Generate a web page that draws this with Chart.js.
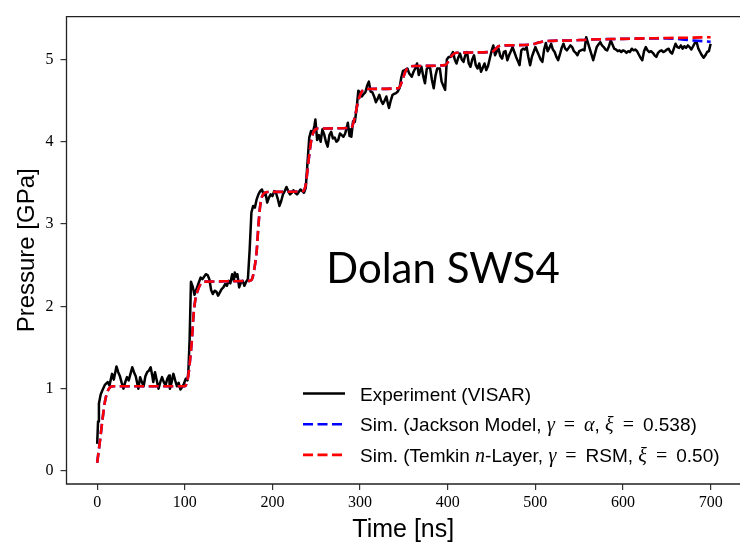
<!DOCTYPE html>
<html>
<head>
<meta charset="utf-8">
<script src="https://cdn.jsdelivr.net/npm/chart.js@4.4.0/dist/chart.umd.min.js"></script>
<style>
  body { margin: 0; background: #fff; }
</style>
</head>
<body>
<canvas id="myChart" width="740" height="549"></canvas>
<script>
// VISAR record (time in ns, pressure in GPa)
const expTime = [
  0, 1, 2, 4, 6, 9, 12, 14, 17, 19,
  22, 24, 26, 28, 30, 32, 34, 36, 38, 40,
  42, 44, 46, 47, 49, 51, 53, 55, 57, 59,
  61, 63, 64, 66, 68, 70, 72, 74, 76, 78,
  80, 82, 83, 85, 87, 89, 91, 93, 95, 97,
  99, 101, 103, 104, 105.5, 107, 109, 111, 113, 116,
  118, 120, 122, 124, 126, 128, 130, 132, 134, 136,
  138, 140, 142, 144, 146, 148, 150, 152, 154, 156,
  157, 159, 160, 162, 164, 166, 168, 170, 172, 174,
  176, 178, 180, 182, 184, 186, 188, 190, 192, 194,
  196, 198, 200, 202, 204, 206, 208, 210, 212, 214,
  216, 218, 220, 222, 224, 226, 228, 230, 232, 234,
  236, 238, 240, 242, 244, 246, 248, 249, 251, 253,
  255, 257, 259, 261, 263, 265, 267, 269, 271, 273,
  275, 277, 279, 281, 283, 285, 286, 288, 289, 290,
  292, 294, 296, 298, 300, 302, 304, 306, 308, 310,
  312, 314, 316, 318, 320, 322, 324, 326, 328, 330,
  332, 333, 335, 337, 339, 341, 343, 345, 347, 349,
  351, 354, 356, 359, 361, 363, 365, 367, 370, 372,
  374, 376, 378, 380, 382, 384, 386, 388, 391, 393,
  395, 397, 399, 401, 403, 406, 408, 410, 412, 414,
  416, 418, 420, 422, 424, 426, 428, 430, 432, 434,
  436, 438, 440, 442, 444, 446, 448, 450, 452, 454,
  456, 458, 460, 462, 464, 466, 468, 470, 472, 474,
  476, 478, 480, 482, 484, 486, 488, 490, 492, 494,
  496, 498, 500, 502, 504, 506, 508, 510, 512, 514,
  516, 518, 520, 522, 524, 526, 528, 530, 532, 534,
  536, 538, 540, 542, 544, 546, 548, 550, 552, 554,
  556, 558, 560, 562, 564, 566, 568, 570, 572, 574,
  576, 578, 580, 582, 584, 586, 588, 590, 592, 594,
  596, 598, 600, 602, 604, 606, 608, 610, 612, 614,
  616, 618, 620, 622, 624, 626, 628, 630, 632, 634,
  636, 638, 640, 642, 644, 646, 648, 650, 652, 654,
  656, 658, 660, 662, 664, 666, 668, 670, 672, 674,
  676, 678, 680, 682, 684, 686, 688, 690, 692, 694,
  696, 698, 700
];
const expPressure = [
  0.33, 0.60, 0.82, 0.93, 0.98, 1.05, 1.08, 1.04, 1.18, 1.11,
  1.27, 1.20, 1.15, 1.07, 1.00, 1.08, 1.14, 1.10, 1.18, 1.26,
  1.20, 1.15, 1.05, 1.00, 1.14, 1.08, 1.03, 1.15, 1.20, 1.22,
  1.26, 1.15, 1.08, 1.20, 1.10, 1.00, 1.08, 1.14, 1.08, 1.04,
  1.12, 1.16, 1.00, 1.08, 1.18, 1.10, 1.03, 1.07, 0.99, 1.02,
  1.06, 1.12, 1.10, 1.20, 1.60, 2.30, 2.24, 2.14, 2.20, 2.29,
  2.35, 2.33, 2.36, 2.39, 2.38, 2.33, 2.20, 2.15, 2.19, 2.18,
  2.13, 2.17, 2.21, 2.23, 2.27, 2.25, 2.31, 2.28, 2.39, 2.31,
  2.41, 2.36, 2.39, 2.23, 2.29, 2.31, 2.25, 2.30, 2.33, 2.69,
  3.14, 3.22, 3.20, 3.30, 3.36, 3.40, 3.42, 3.35, 3.38, 3.26,
  3.32, 3.36, 3.34, 3.40, 3.38, 3.31, 3.22, 3.28, 3.36, 3.40,
  3.45, 3.40, 3.36, 3.38, 3.41, 3.38, 3.36, 3.39, 3.42, 3.40,
  3.38, 3.44, 3.75, 4.05, 4.13, 4.10, 4.20, 4.27, 4.02, 4.08,
  4.00, 4.15, 4.09, 4.00, 3.94, 4.08, 4.12, 4.04, 4.05, 4.00,
  4.02, 4.10, 4.08, 4.06, 4.10, 4.18, 4.23, 4.07, 4.15, 4.06,
  4.25, 4.24, 4.40, 4.62, 4.60, 4.55, 4.58, 4.60, 4.68, 4.73,
  4.61, 4.60, 4.55, 4.48, 4.52, 4.57, 4.50, 4.46, 4.50, 4.55,
  4.45, 4.41, 4.50, 4.57, 4.58, 4.59, 4.61, 4.65, 4.78, 4.86,
  4.87, 4.89, 4.83, 4.79, 4.85, 4.89, 4.95, 4.81, 4.91, 4.80,
  4.71, 4.88, 4.91, 4.89, 4.75, 4.65, 4.80, 4.89, 4.89, 4.73,
  4.68, 4.63, 5.00, 5.03, 5.03, 5.09, 5.00, 4.95, 5.02, 5.07,
  5.00, 4.97, 5.05, 5.09, 4.95, 4.91, 5.00, 5.05, 4.93, 4.89,
  4.95, 4.85, 4.90, 4.95, 4.87, 4.92, 5.01, 5.10, 5.17, 5.05,
  5.10, 5.13, 5.04, 5.01, 5.09, 5.10, 4.99, 5.05, 5.10, 5.15,
  5.09, 5.03, 4.98, 4.93, 5.11, 5.13, 5.12, 5.15, 5.03, 4.93,
  5.03, 5.09, 5.15, 5.10, 5.05, 5.00, 4.97, 5.12, 5.20, 5.10,
  5.14, 5.19, 5.12, 5.09, 5.03, 4.99, 5.06, 5.14, 5.19, 5.13,
  5.11, 5.14, 5.17, 5.15, 5.10, 5.08, 5.05, 5.10, 5.11, 5.12,
  5.11, 5.27, 5.20, 5.13, 5.06, 4.99, 5.07, 5.15, 5.18, 5.21,
  5.17, 5.15, 5.12, 5.11, 5.16, 5.23, 5.18, 5.13, 5.12, 5.10,
  5.11, 5.09, 5.11, 5.10, 5.08, 5.10, 5.09, 5.13, 5.11, 5.12,
  5.10, 5.06, 5.02, 4.99, 5.10, 5.15, 5.11, 5.09, 5.10, 5.08,
  5.05, 5.03, 5.08, 5.10, 5.11, 5.09, 5.10, 5.12, 5.13, 5.09,
  5.07, 5.13, 5.19, 5.15, 5.14, 5.17, 5.13, 5.16, 5.14, 5.17,
  5.15, 5.12, 5.16, 5.20, 5.21, 5.13, 5.09, 5.05, 5.02, 5.05,
  5.09, 5.10, 5.19
];

// simulated pressure histories, shared time base
const simTime = [
  0, 3, 6, 9, 12, 15, 18,
  100, 102, 104, 106, 108, 110, 112, 115, 118, 122,
  174, 177, 180, 182, 184, 186, 188, 191, 195,
  235, 238, 241, 244, 247, 252,
  290, 294, 298, 302, 307,
  344, 348, 352, 356, 362,
  397, 401, 405, 410,
  450, 454, 458, 464,
  496, 502, 510,
  540, 560, 600, 650, 680, 700
];
const temkinPressure = [
  0.10, 0.35, 0.62, 0.85, 0.97, 1.02, 1.03,
  1.03, 1.06, 1.16, 1.35, 1.58, 1.90, 2.08, 2.20, 2.27, 2.30,
  2.31, 2.34, 2.50, 2.67, 2.98, 3.22, 3.33, 3.38, 3.39,
  3.40, 3.48, 3.75, 4.00, 4.12, 4.16,
  4.17, 4.30, 4.50, 4.61, 4.64,
  4.65, 4.74, 4.86, 4.91, 4.92,
  4.93, 4.98, 5.05, 5.08,
  5.09, 5.12, 5.16, 5.17,
  5.18, 5.20, 5.22,
  5.23, 5.24, 5.25, 5.26, 5.265, 5.27
];
const jacksonPressure = [
  0.10, 0.35, 0.62, 0.85, 0.97, 1.02, 1.03,
  1.03, 1.06, 1.16, 1.35, 1.58, 1.90, 2.08, 2.20, 2.27, 2.30,
  2.31, 2.34, 2.50, 2.67, 2.98, 3.22, 3.33, 3.38, 3.39,
  3.40, 3.48, 3.75, 4.00, 4.12, 4.16,
  4.17, 4.30, 4.50, 4.61, 4.64,
  4.65, 4.74, 4.86, 4.91, 4.92,
  4.93, 4.98, 5.05, 5.08,
  5.09, 5.12, 5.16, 5.17,
  5.18, 5.20, 5.22,
  5.23, 5.24, 5.25, 5.255, 5.23, 5.215
];

const xTicks = [0, 100, 200, 300, 400, 500, 600, 700];
const yTicks = [0, 1, 2, 3, 4, 5];

const plotTitle = 'Dolan SWS4';
const sansFont = "'Liberation Sans', Arial, sans-serif";
const serifFont = "'Liberation Serif', 'DejaVu Serif', serif";

// legend rows: pieces of text with their own font ('rm' text, 'it' math italic, 'op' math operator)
const legendRows = [
  { color: '#000000', dash: [], parts: [['Experiment (VISAR)', 'rm']] },
  { color: '#0000ff', dash: [10, 4.5], parts: [
    ['Sim. (Jackson Model, ', 'rm'], ['γ', 'it'], ['=', 'op'], ['α', 'it'],
    [', ', 'rm'], ['ξ', 'it'], ['=', 'op'], ['0.538)', 'rm']] },
  { color: '#ff0000', dash: [10, 4.5], parts: [
    ['Sim. (Temkin ', 'rm'], ['n', 'it'], ['-Layer, ', 'rm'], ['γ', 'it'], ['=', 'op'],
    ['RSM, ', 'rm'], ['ξ', 'it'], ['=', 'op'], ['0.50)', 'rm']] }
];
const partFonts = {
  rm: '19px ' + sansFont,
  it: 'italic 20px ' + serifFont,
  op: '20px ' + serifFont
};

const overlay = {
  id: 'overlay',
  afterDatasetsDraw(chart) {
    const c = chart.ctx;
    const a = chart.chartArea;
    c.save();
    // frame: the right edge sits just past the canvas
    c.strokeStyle = '#222';
    c.lineWidth = 1.3;
    c.beginPath();
    c.moveTo(a.right, a.top);
    c.lineTo(a.left, a.top);
    c.lineTo(a.left, a.bottom);
    c.lineTo(a.right, a.bottom);
    c.stroke();

    // big label in the middle of the plot
    c.fillStyle = '#000';
    c.font = "42px Lato, 'Open Sans', sans-serif";
    c.textAlign = 'center';
    c.textBaseline = 'alphabetic';
    c.fillText(plotTitle, 443, 283);

    // legend, lower right
    c.textAlign = 'left';
    legendRows.forEach((row, i) => {
      const y = 393.5 + i * 30.7;
      c.strokeStyle = row.color;
      c.lineWidth = 2.6;
      c.setLineDash(row.dash);
      c.beginPath();
      c.moveTo(303, y);
      c.lineTo(345, y);
      c.stroke();
      c.setLineDash([]);
      let x = 360;
      row.parts.forEach(([txt, kind]) => {
        c.font = partFonts[kind];
        if (kind === 'op') x += 9;
        c.fillText(txt, x, y + 7);
        x += c.measureText(txt).width;
        if (kind === 'op') x += 9;
      });
    });
    c.restore();
  }
};

const tickFont = { family: serifFont, size: 16 };
const titleFont = { family: sansFont, size: 25 };

const ctx = document.getElementById('myChart').getContext('2d');
const myChart = new Chart(ctx, {
  type: 'line',
  data: {
    datasets: [
      {
        label: 'Experiment (VISAR)',
        data: expTime.map((t, i) => ({ x: t, y: expPressure[i] })),
        borderColor: '#000',
        borderWidth: 2.5,
        borderJoinStyle: 'round',
        pointRadius: 0,
        order: 2
      },
      {
        label: 'Sim. (Jackson Model)',
        data: simTime.map((t, i) => ({ x: t, y: jacksonPressure[i] })),
        borderColor: '#0000ff',
        borderWidth: 2.6,
        borderDash: [10, 4.5],
        cubicInterpolationMode: 'monotone',
        pointRadius: 0,
        order: 1
      },
      {
        label: 'Sim. (Temkin n-Layer)',
        data: simTime.map((t, i) => ({ x: t, y: temkinPressure[i] })),
        borderColor: '#ff0000',
        borderWidth: 2.6,
        borderDash: [10, 4.5],
        cubicInterpolationMode: 'monotone',
        pointRadius: 0,
        order: 0
      }
    ]
  },
  options: {
    responsive: false,
    animation: false,
    devicePixelRatio: 1,
    layout: { padding: { top: 7, right: 0, bottom: 0, left: 0 } },
    plugins: {
      legend: { display: false },
      tooltip: { enabled: false }
    },
    scales: {
      x: {
        type: 'linear',
        min: -35,
        max: 733.5,
        afterBuildTicks: s => { s.ticks = xTicks.map(v => ({ value: v })); },
        afterFit: s => { s.height = 65; },
        grid: { drawOnChartArea: false, tickLength: 6, tickColor: '#333', lineWidth: 1.2 },
        border: { display: false },
        ticks: { font: tickFont, color: '#000', padding: 3, maxRotation: 0 },
        title: { display: true, text: 'Time [ns]', font: titleFont, color: '#000', padding: { top: 0, bottom: 4 } }
      },
      y: {
        type: 'linear',
        min: -0.158,
        max: 5.52,
        afterBuildTicks: s => { s.ticks = yTicks.map(v => ({ value: v })); },
        afterFit: s => { s.width = 66.5; },
        grid: { drawOnChartArea: false, tickLength: 6, tickColor: '#333', lineWidth: 1.2 },
        border: { display: false },
        ticks: { font: tickFont, color: '#000', padding: 7 },
        title: { display: true, text: 'Pressure [GPa]', font: { family: sansFont, size: 24 }, color: '#000', padding: { top: 13, bottom: 0 } }
      }
    }
  },
  plugins: [overlay]
});
</script>
</body>
</html>
